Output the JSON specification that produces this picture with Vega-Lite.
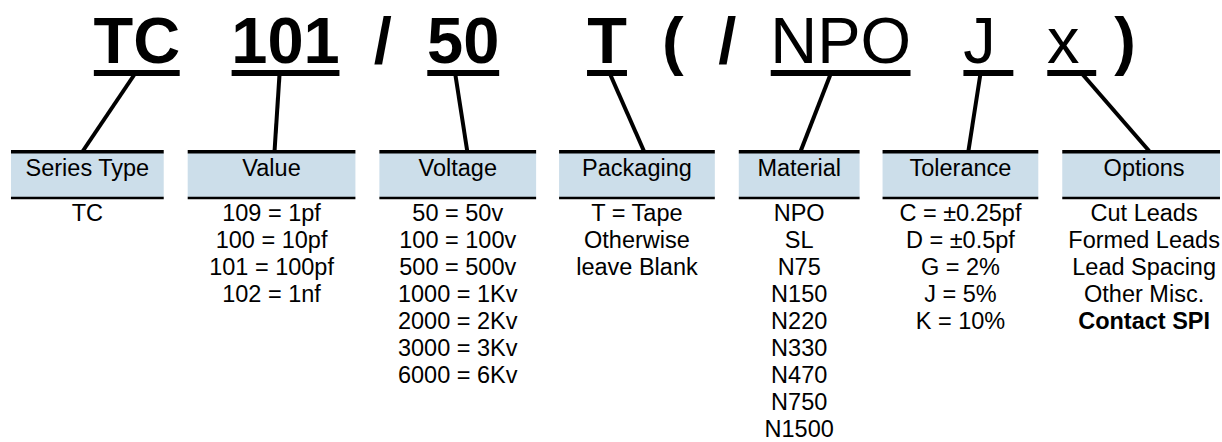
{
  "$schema": "https://vega.github.io/schema/vega-lite/v6.json",
  "width": 1222,
  "height": 442,
  "autosize": {"type": "fit", "contains": "padding"},
  "padding": 0,
  "background": "white",
  "config": {"view": {"stroke": null}, "text": {"font": "Liberation Sans", "color": "#000000"}},
  "datasets": {
    "columns": [
      {"col": "Series Type", "x1": 11, "x2": 164, "cx": 87.5},
      {"col": "Value", "x1": 188, "x2": 356, "cx": 272},
      {"col": "Voltage", "x1": 380, "x2": 537, "cx": 458.5},
      {"col": "Packaging", "x1": 560, "x2": 716, "cx": 638},
      {"col": "Material", "x1": 740, "x2": 861, "cx": 800.5},
      {"col": "Tolerance", "x1": 884, "x2": 1040, "cx": 962},
      {"col": "Options", "x1": 1064, "x2": 1222, "cx": 1146}
    ],
    "codes": [
      {"code": "TC", "cx": 137, "w": "bold", "u1": 94, "u2": 180},
      {"code": "101", "cx": 286, "w": "bold", "u1": 232, "u2": 340},
      {"code": "/", "cx": 383.5, "w": "bold", "u1": null, "u2": null},
      {"code": "50", "cx": 464, "w": "bold", "u1": 428, "u2": 500},
      {"code": "T", "cx": 608, "w": "bold", "u1": 588, "u2": 628},
      {"code": "(", "cx": 674, "w": "bold", "u1": null, "u2": null},
      {"code": "/", "cx": 728.5, "w": "bold", "u1": null, "u2": null},
      {"code": "NPO", "cx": 842, "w": "normal", "u1": 772, "u2": 912},
      {"code": "J", "cx": 981, "w": "normal", "u1": 965, "u2": 1015},
      {"code": "x", "cx": 1065, "w": "normal", "u1": 1049, "u2": 1098},
      {"code": ")", "cx": 1127, "w": "bold", "u1": null, "u2": null}
    ],
    "connectors": [
      {"col": "Series Type", "xa": 135, "ya": 74, "xb": 83, "yb": 151},
      {"col": "Value", "xa": 280, "ya": 74, "xb": 275, "yb": 151},
      {"col": "Voltage", "xa": 456, "ya": 74, "xb": 468, "yb": 151},
      {"col": "Packaging", "xa": 611, "ya": 74, "xb": 645, "yb": 151},
      {"col": "Material", "xa": 832, "ya": 74, "xb": 802, "yb": 151},
      {"col": "Tolerance", "xa": 982, "ya": 74, "xb": 970, "yb": 151},
      {"col": "Options", "xa": 1084, "ya": 74, "xb": 1151, "yb": 151}
    ],
    "items": [
      {"col": "Series Type", "row": 0, "label": "TC", "w": "normal"},
      {"col": "Value", "row": 0, "label": "109 = 1pf", "w": "normal"},
      {"col": "Value", "row": 1, "label": "100 = 10pf", "w": "normal"},
      {"col": "Value", "row": 2, "label": "101 = 100pf", "w": "normal"},
      {"col": "Value", "row": 3, "label": "102 = 1nf", "w": "normal"},
      {"col": "Voltage", "row": 0, "label": "50 = 50v", "w": "normal"},
      {"col": "Voltage", "row": 1, "label": "100 = 100v", "w": "normal"},
      {"col": "Voltage", "row": 2, "label": "500 = 500v", "w": "normal"},
      {"col": "Voltage", "row": 3, "label": "1000 = 1Kv", "w": "normal"},
      {"col": "Voltage", "row": 4, "label": "2000 = 2Kv", "w": "normal"},
      {"col": "Voltage", "row": 5, "label": "3000 = 3Kv", "w": "normal"},
      {"col": "Voltage", "row": 6, "label": "6000 = 6Kv", "w": "normal"},
      {"col": "Packaging", "row": 0, "label": "T = Tape", "w": "normal"},
      {"col": "Packaging", "row": 1, "label": "Otherwise", "w": "normal"},
      {"col": "Packaging", "row": 2, "label": "leave Blank", "w": "normal"},
      {"col": "Material", "row": 0, "label": "NPO", "w": "normal"},
      {"col": "Material", "row": 1, "label": "SL", "w": "normal"},
      {"col": "Material", "row": 2, "label": "N75", "w": "normal"},
      {"col": "Material", "row": 3, "label": "N150", "w": "normal"},
      {"col": "Material", "row": 4, "label": "N220", "w": "normal"},
      {"col": "Material", "row": 5, "label": "N330", "w": "normal"},
      {"col": "Material", "row": 6, "label": "N470", "w": "normal"},
      {"col": "Material", "row": 7, "label": "N750", "w": "normal"},
      {"col": "Material", "row": 8, "label": "N1500", "w": "normal"},
      {"col": "Tolerance", "row": 0, "label": "C = ±0.25pf", "w": "normal"},
      {"col": "Tolerance", "row": 1, "label": "D = ±0.5pf", "w": "normal"},
      {"col": "Tolerance", "row": 2, "label": "G = 2%", "w": "normal"},
      {"col": "Tolerance", "row": 3, "label": "J = 5%", "w": "normal"},
      {"col": "Tolerance", "row": 4, "label": "K = 10%", "w": "normal"},
      {"col": "Options", "row": 0, "label": "Cut Leads", "w": "normal"},
      {"col": "Options", "row": 1, "label": "Formed Leads", "w": "normal"},
      {"col": "Options", "row": 2, "label": "Lead  Spacing", "w": "normal"},
      {"col": "Options", "row": 3, "label": "Other Misc.", "w": "normal"},
      {"col": "Options", "row": 4, "label": "Contact SPI", "w": "bold"}
    ]
  },
  "resolve": {"scale": {"y": "independent"}},
  "layer": [
    {
      "data": {"name": "columns"},
      "mark": {"type": "rect", "color": "#CCDEEA"},
      "encoding": {
        "x": {"field": "x1", "type": "quantitative", "axis": null, "scale": {"domain": [0, 1222], "nice": false, "zero": false}},
        "x2": {"field": "x2"},
        "y": {"datum": 153, "type": "quantitative", "axis": null, "scale": {"domain": [0, 442], "nice": false, "zero": false, "reverse": true}},
        "y2": {"datum": 197}
      }
    },
    {
      "data": {"name": "columns"},
      "mark": {"type": "rule", "color": "#000000", "strokeWidth": 3.5},
      "encoding": {
        "x": {"field": "x1", "type": "quantitative", "axis": null, "scale": {"domain": [0, 1222], "nice": false, "zero": false}},
        "x2": {"field": "x2"},
        "y": {"datum": 151.75, "type": "quantitative", "axis": null, "scale": {"domain": [0, 442], "nice": false, "zero": false, "reverse": true}}
      }
    },
    {
      "data": {"name": "columns"},
      "mark": {"type": "rule", "color": "#000000", "strokeWidth": 2.5},
      "encoding": {
        "x": {"field": "x1", "type": "quantitative", "axis": null, "scale": {"domain": [0, 1222], "nice": false, "zero": false}},
        "x2": {"field": "x2"},
        "y": {"datum": 198, "type": "quantitative", "axis": null, "scale": {"domain": [0, 442], "nice": false, "zero": false, "reverse": true}}
      }
    },
    {
      "data": {"name": "columns"},
      "mark": {"type": "text", "fontSize": 23.5, "baseline": "alphabetic", "align": "center"},
      "encoding": {
        "x": {"field": "cx", "type": "quantitative", "axis": null, "scale": {"domain": [0, 1222], "nice": false, "zero": false}},
        "y": {"datum": 176, "type": "quantitative", "axis": null, "scale": {"domain": [0, 442], "nice": false, "zero": false, "reverse": true}},
        "text": {"field": "col"}
      }
    },
    {
      "data": {"name": "connectors"},
      "mark": {"type": "rule", "color": "#000000", "strokeWidth": 4},
      "encoding": {
        "x": {"field": "xa", "type": "quantitative", "axis": null, "scale": {"domain": [0, 1222], "nice": false, "zero": false}},
        "x2": {"field": "xb"},
        "y": {"field": "ya", "type": "quantitative", "axis": null, "scale": {"domain": [0, 442], "nice": false, "zero": false, "reverse": true}},
        "y2": {"field": "yb"}
      }
    },
    {
      "data": {"name": "codes"},
      "transform": [{"filter": "datum.u1 != null"}],
      "mark": {"type": "rule", "color": "#000000", "strokeWidth": 6},
      "encoding": {
        "x": {"field": "u1", "type": "quantitative", "axis": null, "scale": {"domain": [0, 1222], "nice": false, "zero": false}},
        "x2": {"field": "u2"},
        "y": {"datum": 73, "type": "quantitative", "axis": null, "scale": {"domain": [0, 442], "nice": false, "zero": false, "reverse": true}}
      }
    },
    {
      "data": {"name": "codes"},
      "transform": [{"filter": "datum.w == 'bold'"}],
      "mark": {"type": "text", "fontSize": 65, "fontWeight": "bold", "baseline": "alphabetic", "align": "center"},
      "encoding": {
        "x": {"field": "cx", "type": "quantitative", "axis": null, "scale": {"domain": [0, 1222], "nice": false, "zero": false}},
        "y": {"datum": 63, "type": "quantitative", "axis": null, "scale": {"domain": [0, 442], "nice": false, "zero": false, "reverse": true}},
        "text": {"field": "code"}
      }
    },
    {
      "data": {"name": "codes"},
      "transform": [{"filter": "datum.w == 'normal'"}],
      "mark": {"type": "text", "fontSize": 65, "fontWeight": "normal", "baseline": "alphabetic", "align": "center"},
      "encoding": {
        "x": {"field": "cx", "type": "quantitative", "axis": null, "scale": {"domain": [0, 1222], "nice": false, "zero": false}},
        "y": {"datum": 63, "type": "quantitative", "axis": null, "scale": {"domain": [0, 442], "nice": false, "zero": false, "reverse": true}},
        "text": {"field": "code"}
      }
    },
    {
      "data": {"name": "items"},
      "transform": [
        {"filter": "datum.w == 'normal'"},
        {"lookup": "col", "from": {"data": {"name": "columns"}, "key": "col", "fields": ["cx"]}}
      ],
      "mark": {"type": "text", "fontSize": 23.5, "baseline": "alphabetic", "align": "center"},
      "encoding": {
        "x": {"field": "cx", "type": "quantitative", "axis": null, "scale": {"domain": [0, 1222], "nice": false, "zero": false}},
        "y": {"field": "row", "type": "quantitative", "axis": null, "scale": {"domain": [-8.185185, 8.185185], "nice": false, "zero": false, "reverse": true}},
        "text": {"field": "label"}
      }
    },
    {
      "data": {"name": "items"},
      "transform": [
        {"filter": "datum.w == 'bold'"},
        {"lookup": "col", "from": {"data": {"name": "columns"}, "key": "col", "fields": ["cx"]}}
      ],
      "mark": {"type": "text", "fontSize": 23.5, "fontWeight": "bold", "baseline": "alphabetic", "align": "center"},
      "encoding": {
        "x": {"field": "cx", "type": "quantitative", "axis": null, "scale": {"domain": [0, 1222], "nice": false, "zero": false}},
        "y": {"field": "row", "type": "quantitative", "axis": null, "scale": {"domain": [-8.185185, 8.185185], "nice": false, "zero": false, "reverse": true}},
        "text": {"field": "label"}
      }
    }
  ]
}
